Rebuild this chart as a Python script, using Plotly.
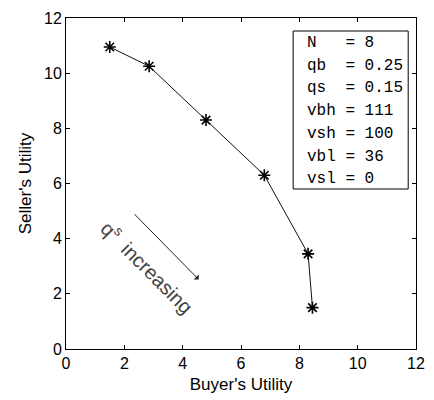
import plotly.graph_objects as go

# Data
buyer_utility = [1.5, 2.85, 4.8, 6.8, 8.3, 8.45]
seller_utility = [10.95, 10.25, 8.3, 6.3, 3.45, 1.5]
param_names = ["N", "qb", "qs", "vbh", "vsh", "vbl", "vsl"]
param_values = ["8", "0.25", "0.15", "111", "100", "36", "0"]
x_ticks = [0, 2, 4, 6, 8, 10, 12]
y_ticks = [0, 2, 4, 6, 8, 10, 12]

W, H = 434, 400
L, R, T, B = 66, 9, 18, 51
pw, ph = W - L - R, H - T - B

def px_to_paper(px, py):
    return (px - L) / pw, (H - B - py) / ph

fig = go.Figure()
fig.add_trace(go.Scatter(
    x=buyer_utility, y=seller_utility, mode="lines+markers",
    line=dict(color="#111111", width=1),
    marker=dict(symbol="asterisk-open", size=10, color="black",
                line=dict(color="black", width=1.6)),
    showlegend=False,
))

axis_common = dict(
    range=[0, 12], showgrid=False, zeroline=False,
    showline=True, linecolor="black", linewidth=1, mirror="ticks",
    ticks="inside", ticklen=4, tickcolor="black", tickwidth=1,
    tickfont=dict(family="Liberation Sans, Arial, sans-serif", size=16, color="black"),
)
fig.update_xaxes(**axis_common, tickvals=x_ticks,
                 title=dict(text="Buyer's Utility", standoff=6,
                            font=dict(family="Liberation Sans, Arial, sans-serif", size=17, color="black")))
fig.update_yaxes(**axis_common, tickvals=y_ticks,
                 title=dict(text="Seller's Utility", standoff=8,
                            font=dict(family="Liberation Sans, Arial, sans-serif", size=17, color="black")))

# Parameter box
x0, y0 = px_to_paper(299, 189)
x1, y1 = px_to_paper(417, 31)
fig.add_shape(type="rect", xref="paper", yref="paper", x0=x0, y0=y0, x1=x1, y1=y1,
              line=dict(color="black", width=1), fillcolor="white")

name_w = max(len(n) for n in param_names)
tx, _ = px_to_paper(311, 0)
for i, (n, v) in enumerate(zip(param_names, param_values)):
    line = n.ljust(name_w) + " = " + v
    line = line.replace(" ", "\u00a0")
    _, ty = px_to_paper(0, 43 + i * 22.7)
    fig.add_annotation(x=tx, y=ty, xref="paper", yref="paper", text=line,
                       showarrow=False, xanchor="left", yanchor="middle",
                       font=dict(family="Liberation Mono, Courier New, monospace", size=16, color="black"))

# Arrow annotation (q^s increasing)
fig.add_annotation(x=4.55, y=2.52, ax=2.3, ay=4.94, xref="x", yref="y", axref="x", ayref="y",
                   text="", showarrow=True, arrowhead=1, arrowsize=1.2, arrowwidth=1,
                   arrowcolor="#222222")
fig.add_annotation(x=2.82, y=3.0, xref="x", yref="y",
                   text="q<sup>s</sup>  increasing", showarrow=False, textangle=45,
                   font=dict(family="Liberation Sans, Arial, sans-serif", size=20, color="#444444"))

fig.update_layout(
    width=W, height=H, margin=dict(l=L, r=R, t=T, b=B),
    paper_bgcolor="white", plot_bgcolor="white",
)
fig.write_html("out.html")
